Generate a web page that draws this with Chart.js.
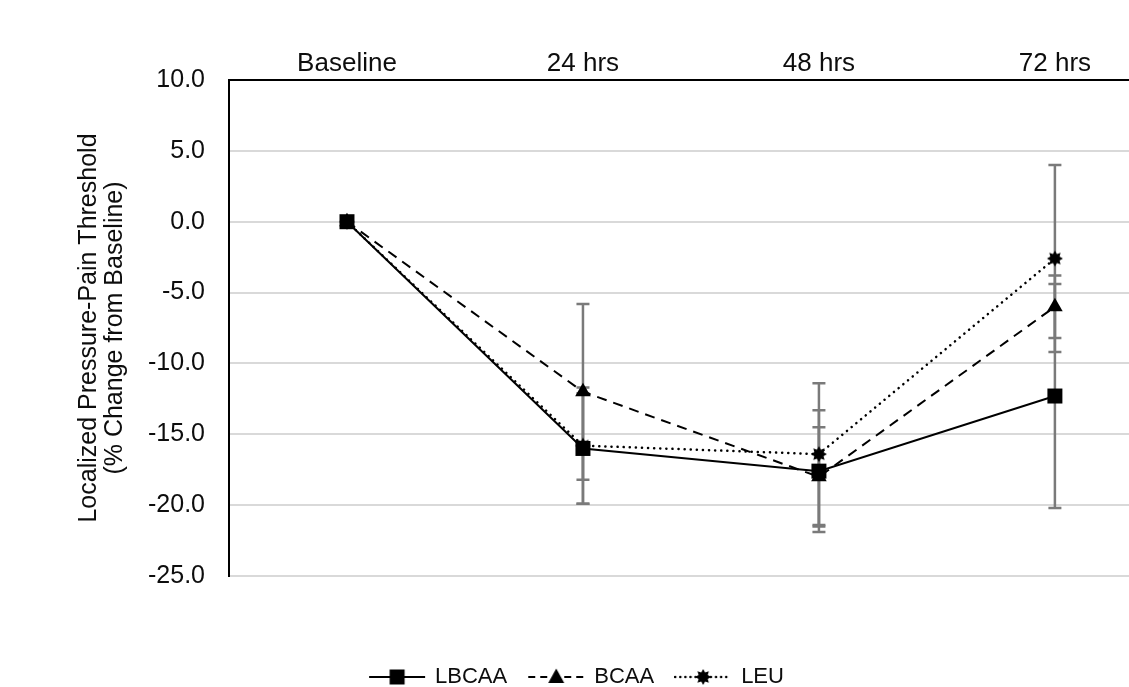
<!DOCTYPE html>
<html>
<head>
<meta charset="utf-8">
<script src="https://cdn.jsdelivr.net/npm/chart.js@4.4.0/dist/chart.umd.min.js"></script>
<style>
  html, body { margin: 0; padding: 0; background: #fff; overflow: hidden; }
  #wrap { position: relative; width: 1129px; height: 698px; }
</style>
</head>
<body>
<div id="wrap"><canvas id="chart"></canvas></div>
<script>
// values (% change from baseline)
const timePoints = ["Baseline", "24 hrs", "48 hrs", "72 hrs"];
const lbcaa = [0, -16.0, -17.6, -12.3];
const bcaa = [0, -12.0, -18.0, -6.0];
const leu = [0, -15.8, -16.4, -2.6];
// +/- error for each point
const lbcaaErr = [0, 3.9, 4.3, 7.9];
const bcaaErr = [0, 6.2, 3.5, 2.2];
const leuErr = [0, 4.1, 5.0, 6.6];
const yTicks = [10, 5, 0, -5, -10, -15, -20, -25];

const FONT = "'Liberation Sans', Arial, sans-serif";
const TEXT = "#0d0d0d";

function drawMarker(ctx, kind, cx, cy) {
  ctx.fillStyle = "#000";
  ctx.beginPath();
  if (kind === "square") {
    ctx.rect(cx - 7.5, cy - 7.5, 15, 15);
  } else if (kind === "triangle") {
    ctx.moveTo(cx, cy - 8.5);
    ctx.lineTo(cx + 8, cy + 6);
    ctx.lineTo(cx - 8, cy + 6);
    ctx.closePath();
  } else {
    for (let k = 0; k < 16; k++) {
      const r = k % 2 ? 5 : 8;
      const a = Math.PI * k / 8 - Math.PI / 2;
      ctx.lineTo(cx + r * Math.cos(a), cy + r * Math.sin(a));
    }
    ctx.closePath();
  }
  ctx.fill();
}

function makeIcon(kind, w, dash, lw, cap) {
  const c = document.createElement("canvas");
  c.width = w;
  c.height = 20;
  const ctx = c.getContext("2d");
  if (w > 20) {
    ctx.strokeStyle = "#000";
    ctx.lineWidth = lw;
    ctx.lineCap = cap;
    ctx.setLineDash(dash);
    ctx.beginPath();
    ctx.moveTo(1, 10);
    ctx.lineTo(w - 1, 10);
    ctx.stroke();
    ctx.setLineDash([]);
  }
  drawMarker(ctx, kind, w / 2, 10);
  return c;
}

const starPoint = makeIcon("star", 18);
const legendIcons = [
  makeIcon("square", 58, [], 2, "butt"),
  makeIcon("triangle", 58, [7, 5], 2, "butt"),
  makeIcon("star", 58, [0.1, 5], 2.5, "round")
];

const toPoints = arr => arr.map((v, i) => ({ x: i, y: v }));

const errorBars = {
  id: "errorBars",
  beforeDatasetsDraw(chart) {
    const { ctx } = chart;
    const x = chart.scales.x, y = chart.scales.y;
    ctx.save();
    ctx.strokeStyle = "#7a7a7a";
    ctx.lineWidth = 2.5;
    chart.data.datasets.forEach(ds => {
      ds.data.forEach((p, i) => {
        const e = ds.errorBars[i];
        if (!e) return;
        const px = x.getPixelForValue(p.x);
        const top = y.getPixelForValue(p.y + e);
        const bot = y.getPixelForValue(p.y - e);
        ctx.beginPath();
        ctx.moveTo(px, top); ctx.lineTo(px, bot);
        ctx.moveTo(px - 6.5, top); ctx.lineTo(px + 6.5, top);
        ctx.moveTo(px - 6.5, bot); ctx.lineTo(px + 6.5, bot);
        ctx.stroke();
      });
    });
    ctx.restore();
  }
};

new Chart(document.getElementById("chart"), {
  type: "line",
  data: {
    datasets: [
      {
        label: "LBCAA",
        data: toPoints(lbcaa),
        errorBars: lbcaaErr,
        borderColor: "#000",
        borderWidth: 2,
        pointStyle: "rect",
        pointRadius: 10.6,
        pointBackgroundColor: "#000",
        pointBorderWidth: 0
      },
      {
        label: "BCAA",
        data: toPoints(bcaa),
        errorBars: bcaaErr,
        borderColor: "#000",
        borderWidth: 2,
        borderDash: [10, 7],
        pointStyle: "triangle",
        pointRadius: 9,
        pointBackgroundColor: "#000",
        pointBorderWidth: 0
      },
      {
        label: "LEU",
        data: toPoints(leu),
        errorBars: leuErr,
        borderColor: "#000",
        borderWidth: 2.5,
        borderDash: [0.1, 6],
        borderCapStyle: "round",
        pointStyle: starPoint,
        pointRadius: 8
      }
    ]
  },
  options: {
    responsive: true,
    maintainAspectRatio: false,
    animation: false,
    devicePixelRatio: 1,
    layout: { autoPadding: false, padding: { left: 25, right: 0, top: 0, bottom: 0 } },
    elements: { line: { tension: 0 } },
    scales: {
      x: {
        type: "linear",
        position: "top",
        min: -0.5,
        max: 3.314,
        afterFit(s) { s.height = 80; s.paddingLeft = 0; s.paddingRight = 0; },
        afterBuildTicks(s) { s.ticks = timePoints.map((_, i) => ({ value: i })); },
        grid: { display: false, drawTicks: false },
        border: { display: true, color: "#000", width: 2 },
        ticks: {
          autoSkip: false,
          maxRotation: 0,
          padding: 1,
          color: TEXT,
          font: { family: FONT, size: 26 },
          callback: v => timePoints[v]
        }
      },
      y: {
        min: yTicks[yTicks.length - 1],
        max: yTicks[0],
        afterFit(s) { s.width = 204; },
        afterBuildTicks(s) { s.ticks = yTicks.map(v => ({ value: v })); },
        grid: {
          drawTicks: false,
          lineWidth: 2,
          color: c => (c.tick && c.tick.value === yTicks[0]) ? "rgba(0,0,0,0)" : "#d9d9d9"
        },
        border: { display: true, color: "#000", width: 2 },
        ticks: {
          padding: 24,
          color: TEXT,
          font: { family: FONT, size: 25 },
          callback: v => v.toFixed(1)
        },
        title: {
          display: true,
          text: ["Localized Pressure-Pain Threshold", "(% Change from Baseline)"],
          color: TEXT,
          font: { family: FONT, size: 25, lineHeight: 1.05 },
          padding: { top: 51, bottom: 0 }
        }
      }
    },
    plugins: {
      tooltip: { enabled: false },
      legend: {
        position: "bottom",
        title: { display: true, text: "", font: { size: 10 }, padding: { top: 56, bottom: 0 } },
        labels: {
          usePointStyle: true,
          pointStyleWidth: 54,
          padding: 22,
          color: TEXT,
          font: { family: FONT, size: 22 },
          generateLabels(chart) {
            return chart.data.datasets.map((ds, i) => ({
              text: ds.label,
              pointStyle: legendIcons[i],
              fillStyle: "#000",
              strokeStyle: "#000",
              lineWidth: 0,
              hidden: false,
              datasetIndex: i,
              fontColor: TEXT
            }));
          }
        }
      }
    }
  },
  plugins: [errorBars]
});
</script>
</body>
</html>
